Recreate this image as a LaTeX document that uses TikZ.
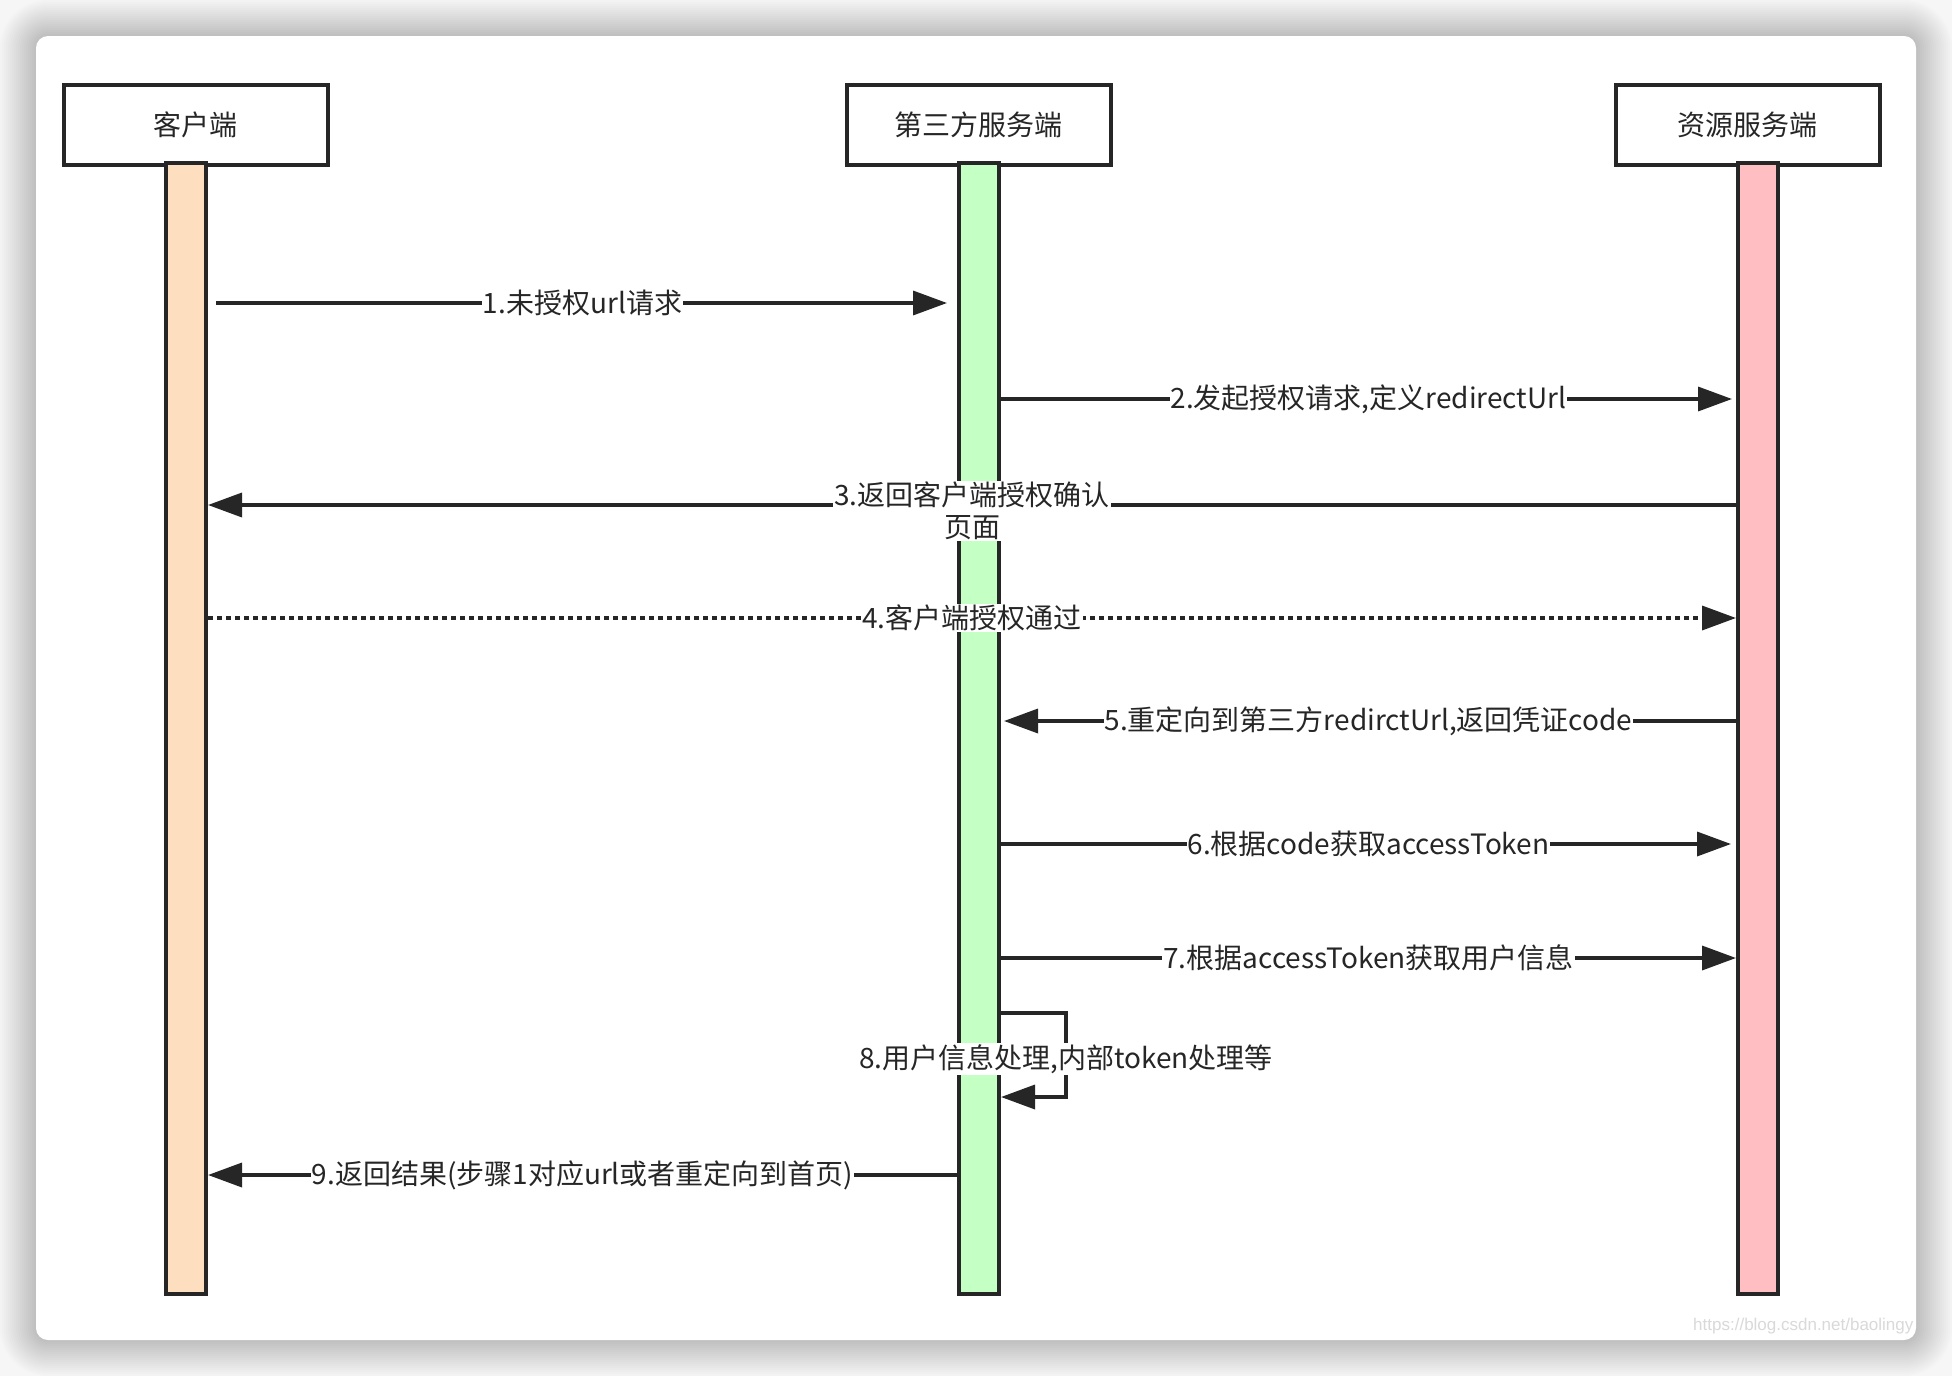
\documentclass[tikz,border=0pt]{standalone}
\usepackage{fontspec}
\setmainfont{Noto Sans CJK SC}
\newfontfamily\markfont{Liberation Sans}
\usepackage{tikz}
\usetikzlibrary{matrix,positioning}
\usetikzlibrary{arrows.meta}
\definecolor{ink}{HTML}{262626}
\definecolor{clientfill}{HTML}{FDDFC0}
\definecolor{thirdfill}{HTML}{C4FFC4}
\definecolor{resfill}{HTML}{FFBEC1}
\definecolor{pagebg}{HTML}{F6F6F6}

\begin{document}
\begin{tikzpicture}[x=1pt, y=-1pt,
	headbox/.style={draw=ink, line width=4pt, fill=white, minimum width=264pt, minimum height=80pt, inner sep=0pt, text=ink, font=\fontsize{28}{32}\selectfont},
	lifebar/.style={draw=ink, line width=4pt, minimum width=40pt, minimum height=1131pt, inner sep=0pt},
	msg/.style={draw=ink, line width=3.5pt, -{Triangle[length=34pt, width=24pt]}},
	lbl/.style={fill=white, inner sep=1pt, text=ink, font=\fontsize{28}{32}\selectfont}]
	\useasboundingbox (0,0) rectangle (1952,1376);
	\fill[pagebg] (0,0) rectangle (1952,1376);
	\foreach \s in {2,4,...,36}
		\fill[black, opacity=0.01, rounded corners=12pt+\s pt] (36-\s,36-\s) rectangle (1916+\s,1340+\s);
	\fill[white, rounded corners=12pt] (36,36) rectangle (1916,1340);
	\node[anchor=base west, inner sep=0pt, text=black!15, font=\markfont\fontsize{17}{20}\selectfont] (mark) at (1693,1330) {https://blog.csdn.net/baolingy};

	\matrix (m) [matrix of nodes, nodes={headbox}, column sep=515pt, inner sep=0pt, outer sep=0pt, anchor=north west] at (62,83)
	{
		客户端 & 第三方服务端 &[-14pt] 资源服务端 \\
	};
	\node[lifebar, fill=clientfill, below=-4pt of m-1-1, xshift=-10pt] (cbar) {};
	\node[lifebar, fill=thirdfill, below=-4pt of m-1-2] (tbar) {};
	\node[lifebar, fill=resfill, below=-4pt of m-1-3, xshift=10pt] (rbar) {};

	\coordinate (r1) at (0,303);
	\coordinate (r2) at (0,399);
	\coordinate (r3) at (0,505);
	\coordinate (r4) at (0,618);
	\coordinate (r5) at (0,721);
	\coordinate (r6) at (0,844);
	\coordinate (r7) at (0,958);
	\coordinate (r8) at (0,1013);
	\coordinate (r8b) at (0,1097);
	\coordinate (r9) at (0,1175);

	\path
	(cbar.east |- r1) edge[msg, shorten <=8pt, shorten >=10pt] node[lbl] {1.未授权url请求} (tbar.west |- r1)
	(tbar.east |- r2) edge[msg, shorten >=4pt] node[lbl] {2.发起授权请求,定义redirectUrl} (rbar.west |- r2)
	(rbar.west |- r3) edge[msg] node[lbl, align=center, yshift=-6pt] {3.返回客户端授权确认\\页面} (cbar.east |- r3)
	(cbar.east |- r4) edge[msg, dash pattern=on 5pt off 4pt] node[lbl] {4.客户端授权通过} (rbar.west |- r4)
	(rbar.west |- r5) edge[msg, shorten >=3pt] node[lbl] {5.重定向到第三方redirctUrl,返回凭证code} (tbar.east |- r5)
	(tbar.east |- r6) edge[msg, shorten >=5pt] node[lbl] {6.根据code获取accessToken} (rbar.west |- r6)
	(tbar.east |- r7) edge[msg] node[lbl] {7.根据accessToken获取用户信息} (rbar.west |- r7)
	(tbar.west |- r9) edge[msg] node[lbl] {9.返回结果(步骤1对应url或者重定向到首页)} (cbar.east |- r9)
	;
	\draw[msg] (tbar.east |- r8) -- ++(65,0) -- node[lbl, yshift=-4pt] {8.用户信息处理,内部token处理等} ++(0,84) -- (tbar.east |- r8b);
\end{tikzpicture}
\end{document}
